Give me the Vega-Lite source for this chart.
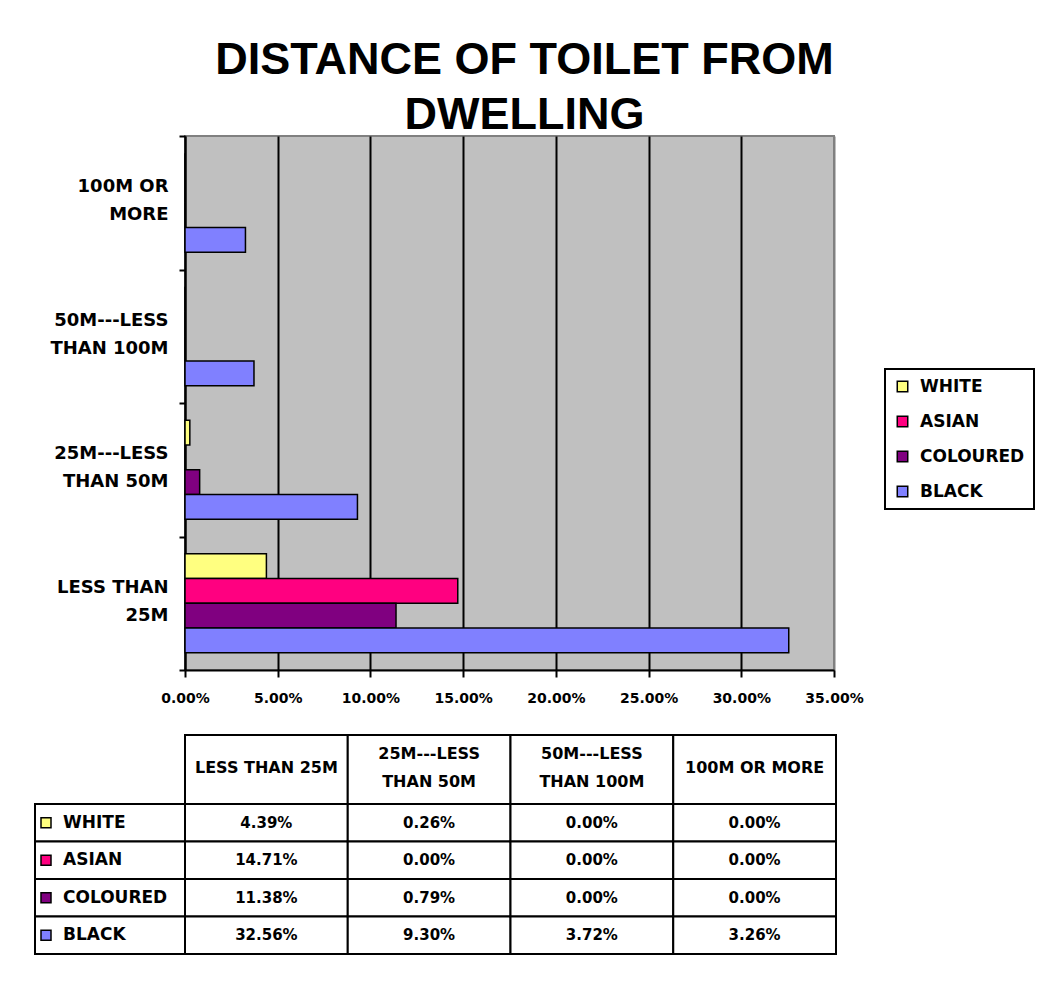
{
  "$schema": "https://vega.github.io/schema/vega-lite/v6.json",
  "background": "white",
  "padding": {"left": 34, "top": 37, "right": 5, "bottom": 5},
  "datasets": {
    "table": [
      {"distance": "LESS THAN 25M", "race": "WHITE", "value": 0.0439},
      {"distance": "LESS THAN 25M", "race": "ASIAN", "value": 0.1471},
      {"distance": "LESS THAN 25M", "race": "COLOURED", "value": 0.1138},
      {"distance": "LESS THAN 25M", "race": "BLACK", "value": 0.3256},
      {"distance": "25M---LESS THAN 50M", "race": "WHITE", "value": 0.0026},
      {"distance": "25M---LESS THAN 50M", "race": "ASIAN", "value": 0},
      {"distance": "25M---LESS THAN 50M", "race": "COLOURED", "value": 0.0079},
      {"distance": "25M---LESS THAN 50M", "race": "BLACK", "value": 0.093},
      {"distance": "50M---LESS THAN 100M", "race": "WHITE", "value": 0},
      {"distance": "50M---LESS THAN 100M", "race": "ASIAN", "value": 0},
      {"distance": "50M---LESS THAN 100M", "race": "COLOURED", "value": 0},
      {"distance": "50M---LESS THAN 100M", "race": "BLACK", "value": 0.0372},
      {"distance": "100M OR MORE", "race": "WHITE", "value": 0},
      {"distance": "100M OR MORE", "race": "ASIAN", "value": 0},
      {"distance": "100M OR MORE", "race": "COLOURED", "value": 0},
      {"distance": "100M OR MORE", "race": "BLACK", "value": 0.0326}
    ],
    "headers": [
      {"col": "LESS THAN 25M", "label": "LESS THAN 25M"},
      {"col": "25M---LESS THAN 50M", "label": "25M---LESS\nTHAN 50M"},
      {"col": "50M---LESS THAN 100M", "label": "50M---LESS\nTHAN 100M"},
      {"col": "100M OR MORE", "label": "100M OR MORE"}
    ]
  },
  "config": {
    "view": {"stroke": null},
    "font": "DejaVu Sans",
    "legend": {"strokeWidth": 2}
  },
  "resolve": {"legend": {"color": "independent"}},
  "spacing": 28,
  "vconcat": [
    {
      "width": 649,
      "height": 534,
      "view": {"fill": "#c0c0c0", "stroke": "#808080", "strokeWidth": 2},
      "title": {
        "text": ["DISTANCE OF TOILET FROM", "DWELLING"],
        "font": "Liberation Sans",
        "fontSize": 45,
        "fontWeight": "bold",
        "lineHeight": 55,
        "anchor": "middle",
        "dx": 15,
        "offset": -11,
        "color": "black"
      },
      "data": {"name": "table"},
      "mark": {"type": "bar", "stroke": "black", "strokeWidth": 1.5},
      "encoding": {
        "y": {
          "field": "distance",
          "type": "nominal",
          "sort": ["100M OR MORE", "50M---LESS THAN 100M", "25M---LESS THAN 50M", "LESS THAN 25M"],
          "scale": {"paddingInner": 0, "paddingOuter": 0},
          "axis": {
            "title": null,
            "domainColor": "black",
            "domainWidth": 2,
            "tickColor": "black",
            "tickWidth": 2,
            "tickSize": 6,
            "tickBand": "extent",
            "labelFont": "DejaVu Sans",
            "labelFontWeight": "bold",
            "labelFontSize": 18,
            "labelColor": "black",
            "labelAlign": "right",
            "labelBaseline": "middle",
            "labelLineHeight": 28,
            "labelPadding": 11,
            "labelOffset": -16,
            "labelExpr": "{'100M OR MORE': ['100M OR', 'MORE\u00a0\u00a0\u00a0'], '50M---LESS THAN 100M': ['50M---LESS\u00a0', 'THAN 100M'], '25M---LESS THAN 50M': ['25M---LESS', 'THAN 50M\u00a0'], 'LESS THAN 25M': ['LESS THAN', '25M\u00a0\u00a0\u00a0\u00a0\u00a0\u00a0']}[datum.label]"
          }
        },
        "yOffset": {
          "field": "race",
          "type": "nominal",
          "sort": ["WHITE", "ASIAN", "COLOURED", "BLACK"],
          "scale": {"paddingInner": 0, "paddingOuter": 0.697}
        },
        "x": {
          "field": "value",
          "type": "quantitative",
          "scale": {"domain": [0, 0.35], "nice": false},
          "axis": {
            "title": null,
            "values": [0, 0.05, 0.1, 0.15, 0.2, 0.25, 0.3, 0.35],
            "format": ".2%",
            "grid": true,
            "gridColor": {"condition": {"test": "datum.value >= 0.349", "value": "#808080"}, "value": "black"},
            "gridWidth": 2,
            "domainColor": "black",
            "domainWidth": 2,
            "tickColor": "black",
            "tickWidth": 2,
            "tickSize": 7,
            "labelFont": "DejaVu Sans",
            "labelFontWeight": "bold",
            "labelFontSize": 14,
            "labelColor": "black",
            "labelPadding": 14,
            "labelFlush": false,
            "labelOverlap": false
          }
        },
        "color": {
          "field": "race",
          "type": "nominal",
          "scale": {
            "domain": ["WHITE", "ASIAN", "COLOURED", "BLACK"],
            "range": ["#ffff80", "#ff0080", "#800080", "#8080ff"]
          },
          "legend": {
            "title": null,
            "orient": "none",
            "legendX": 700,
            "legendY": 233,
            "direction": "vertical",
            "padding": 9,
            "strokeColor": "black",
            "fillColor": "white",
            "symbolType": "square",
            "symbolSize": 110,
            "symbolStrokeColor": "black",
            "symbolStrokeWidth": 1.5,
            "labelFont": "DejaVu Sans",
            "labelFontWeight": "bold",
            "labelFontSize": 17,
            "labelColor": "black",
            "labelOffset": 9,
            "rowPadding": 17
          }
        }
      }
    },
    {
      "spacing": 0,
      "bounds": "flush",
      "vconcat": [
        {
          "width": 651,
          "height": 69,
          "data": {"name": "headers"},
          "layer": [
            {
              "mark": {"type": "rect", "fill": "white", "stroke": "black", "strokeWidth": 2},
              "encoding": {
                "x": {
                  "field": "col",
                  "type": "nominal",
                  "scale": {"domain": ["LESS THAN 25M", "25M---LESS THAN 50M", "50M---LESS THAN 100M", "100M OR MORE"], "paddingInner": 0, "paddingOuter": 0},
                  "axis": null
                }
              }
            },
            {
              "transform": [{"filter": "indexof(datum.label, '\\n') < 0"}],
              "mark": {"type": "text", "font": "DejaVu Sans", "fontWeight": "bold", "fontSize": 16, "baseline": "middle", "dy": -2, "color": "black"},
              "encoding": {
                "x": {"field": "col", "type": "nominal"},
                "text": {"field": "label"}
              }
            },
            {
              "transform": [{"filter": "indexof(datum.label, '\\n') >= 0"}],
              "mark": {"type": "text", "lineBreak": "\n", "font": "DejaVu Sans", "fontWeight": "bold", "fontSize": 16, "lineHeight": 28, "baseline": "middle", "dy": -16, "color": "black"},
              "encoding": {
                "x": {"field": "col", "type": "nominal"},
                "text": {"field": "label"}
              }
            }
          ]
        },
        {
          "width": 651,
          "height": 150,
          "data": {"name": "table"},
          "resolve": {"scale": {"x": "independent"}},
          "layer": [
            {
              "layer": [
                {
                  "mark": {"type": "rect", "fill": "white", "stroke": "black", "strokeWidth": 2},
                  "encoding": {
                    "x": {
                      "field": "distance",
                      "type": "nominal",
                      "scale": {"domain": ["LESS THAN 25M", "25M---LESS THAN 50M", "50M---LESS THAN 100M", "100M OR MORE"], "paddingInner": 0, "paddingOuter": 0},
                      "axis": null
                    },
                    "y": {
                      "field": "race",
                      "type": "nominal",
                      "scale": {"domain": ["WHITE", "ASIAN", "COLOURED", "BLACK"], "paddingInner": 0, "paddingOuter": 0},
                      "axis": null
                    }
                  }
                },
                {
                  "mark": {"type": "text", "font": "DejaVu Sans", "fontWeight": "bold", "fontSize": 15, "color": "black"},
                  "encoding": {
                    "x": {"field": "distance", "type": "nominal"},
                    "y": {"field": "race", "type": "nominal"},
                    "text": {"field": "value", "type": "quantitative", "format": ".2%"}
                  }
                }
              ]
            },
            {
              "transform": [{"filter": "datum.distance == 'LESS THAN 25M'"}],
              "layer": [
                {
                  "mark": {"type": "rect", "fill": "white", "stroke": "black", "strokeWidth": 2},
                  "encoding": {
                    "x": {
                      "datum": "ROW",
                      "type": "nominal",
                      "scale": {"domain": ["ROW"], "range": [-150, 0], "paddingInner": 0, "paddingOuter": 0},
                      "axis": null
                    },
                    "y": {"field": "race", "type": "nominal"}
                  }
                },
                {
                  "mark": {"type": "point", "shape": "square", "size": 100, "filled": true, "opacity": 1, "stroke": "black", "strokeWidth": 1.5, "xOffset": 11},
                  "encoding": {
                    "x": {"datum": "ROW", "type": "nominal", "bandPosition": 0},
                    "y": {"field": "race", "type": "nominal"},
                    "color": {"field": "race", "type": "nominal", "legend": null}
                  }
                },
                {
                  "mark": {"type": "text", "font": "DejaVu Sans", "fontWeight": "bold", "fontSize": 17, "align": "left", "dx": 28, "color": "black"},
                  "encoding": {
                    "x": {"datum": "ROW", "type": "nominal", "bandPosition": 0},
                    "y": {"field": "race", "type": "nominal"},
                    "text": {"field": "race"}
                  }
                }
              ]
            }
          ]
        }
      ]
    }
  ]
}
